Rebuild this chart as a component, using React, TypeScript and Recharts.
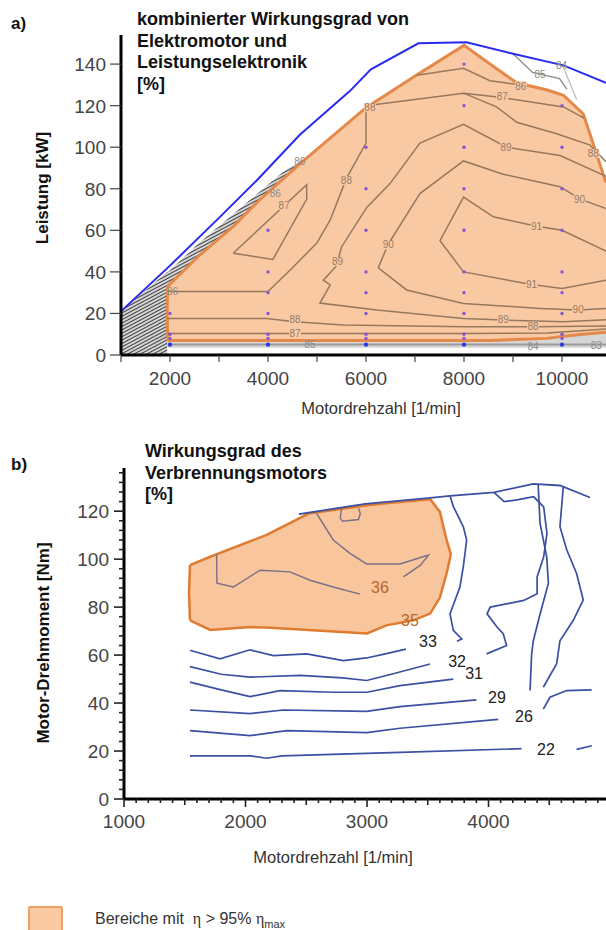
import React from "react";
import { ComposedChart, Line, Area, Scatter, XAxis, YAxis } from "recharts";

const FONT = '"Liberation Sans", Arial, Helvetica, sans-serif';

// ---------- a) Elektromotor + Leistungselektronik ----------
const speedTicksA = [1000, 2000, 3000, 4000, 5000, 6000, 7000, 8000, 9000, 10000];
const powerTicksA = [0, 20, 40, 60, 80, 100, 120, 140];

// Volllastkurve [Drehzahl, Leistung]
const envelopeA = [[1000, 21], [2000, 43], [3000, 66], [3770, 84], [4650, 106], [5670, 127], [6100, 137.5], [7070, 150], [8050, 150.5], [9000, 145], [10030, 139.4], [10898, 131]];
// Bereich > 95% [Drehzahl, unten, oben]
const orangeA = [[1950, 7, 33], [2600, 7, 48], [3300, 7, 62], [3800, 7, 74], [4650, 7, 92], [6000, 7, 119], [7050, 7, 135], [8000, 7, 149], [8530, 7, 140], [9075, 7.5, 131], [9700, 8, 127.5], [10030, 9, 125], [10435, 10, 116], [10898, 11, 83]];
const orangeEdgeA = [[1955, 7], [1940, 20], [1950, 33]];
// dicht gepackte Isolinien (schraffiert)
const hatchA = [[1000, 0, 21], [1940, 0, 40], [1960, 31, 40], [2600, 46, 54], [3300, 60, 68], [3800, 72, 78], [4300, 82, 88], [4700, 91, 94]];
const bandA = [[1950, 3.5, 7], [8000, 3.5, 7], [9075, 3.5, 7.5], [9700, 3.5, 8], [10030, 3.5, 9], [10435, 3.5, 10], [10898, 3.5, 11]];

const a86 = [[7035, 134.6], [7990, 138], [8530, 132], [9140, 130]];
const a87 = [[6000, 120], [7990, 126], [8735, 124], [10030, 119.4], [10450, 114]];
const a88r = [[7990, 126], [8665, 119.4], [9076, 112], [9892, 106.5], [10572, 101], [10898, 93]];
const a88 = [[1950, 30.5], [4000, 30.5], [4500, 42], [5000, 54], [5270, 65], [5600, 85], [6000, 102], [6000, 120]];
const a89 = [[10898, 86], [9960, 96], [8870, 100], [7990, 111], [7100, 102], [6490, 82.5], [6016, 71], [5500, 52], [5400, 43], [5130, 36], [5270, 33.7], [5060, 25], [6220, 21.6], [7990, 17.6], [8800, 16.8], [10030, 16], [10898, 17]];
const a90 = [[10898, 70.5], [10370, 75], [9960, 81], [8800, 87], [7990, 93.4], [7100, 77.7], [6455, 53.4], [6250, 42], [6830, 31.3], [7990, 24.8], [9550, 22.4], [10330, 21.6], [10898, 22.4]];
const a91 = [[10898, 50], [10000, 60], [9480, 62], [8600, 66.5], [7990, 76], [7510, 55], [7990, 40], [9350, 34], [10000, 32], [10898, 36]];
const a87loop = [[3290, 49], [4100, 46], [4790, 75], [4790, 82], [3290, 49]];
const a88low = [[1950, 17.6], [3974, 17.6], [4551, 16], [5537, 14.4], [7986, 13.6], [9409, 13.6], [10898, 14]];
const a87low = [[1950, 10.4], [4000, 10.4], [8000, 10.3], [9700, 10.6], [10898, 12.5]];
const a85 = [[9000, 145], [9400, 136], [9950, 133], [10100, 128]];
const a84 = [[10000, 140], [10300, 123]];
const aBase = [[1950, 5], [10898, 5]];

const labelsA: [string, number, number][] = [
  ["88", 6080, 119], ["87", 8780, 124.5], ["86", 9160, 129.5], ["88", 10640, 97], ["89", 8860, 100],
  ["90", 10360, 75], ["91", 9480, 62], ["91", 9380, 34], ["90", 10330, 21.8], ["90", 6455, 53],
  ["89", 5420, 45], ["88", 5600, 84], ["87", 4330, 72], ["88", 4551, 17], ["87", 4551, 10.5],
  ["89", 8800, 17], ["88", 9409, 13.8],
];
const labelsAOut: [string, number, number][] = [
  ["85", 9550, 135], ["84", 9990, 139.5], ["86", 4650, 93], ["86", 4150, 78], ["86", 2050, 30.5],
  ["85", 4857, 5], ["84", 9409, 4], ["83", 10700, 4.5],
];

// Messpunkte
const gridSpeedsA = [2000, 4000, 6000, 8000, 10000];
const gridPowersA = [8, 10, 20, 30, 40, 60, 80, 100, 120, 140];
const gridTopA = [20, 60, 120, 140, 120];
const baseRowA = 5;

// ---------- b) Verbrennungsmotor ----------
const envelopeB = [[2440, 118.8], [2985, 123], [3502, 125.4], [3683, 126.4], [4045, 127.8], [4369, 131.4], [4588, 130.7], [4835, 125.7]];
const orangeB = [[1543, 74.5, 97.5], [1710, 70.5, 101], [2040, 71.7, 107.5], [2170, 71.5, 110], [2520, 70.5, 119], [3000, 69, 122.5], [3160, 72.4, 123.3], [3380, 74.5, 124.3], [3520, 77.3, 125], [3600, 84, 119.7], [3655, 94, 108], [3690, 102, 102]];
const orangeEdgeB = [[1543, 74.5], [1535, 86], [1543, 97.5]];

const b36a = [[1762, 102], [1765, 90], [1900, 88.4], [2120, 95.4], [2366, 94.7], [2531, 91.2], [2722, 88.4], [2942, 85.4]];
const b36b = [[2586, 119], [2722, 108], [2860, 102.4], [2997, 98], [3272, 98], [3460, 101], [3506, 101.7], [3440, 97.5], [3300, 92.6]];
const b36loop = [[2790, 121], [2780, 117], [2800, 115.8], [2930, 116.5], [2945, 119], [2930, 121.2]];
const b33 = [[1543, 62], [1790, 58.4], [2037, 62.2], [2229, 59.8], [2504, 60.5], [2805, 57.7], [2997, 58.8], [3150, 60.5], [3320, 62.5]];
const b32 = [[1543, 55.2], [1800, 52], [2037, 50.8], [2449, 51.5], [2800, 50.5], [2997, 49.4], [3200, 52], [3519, 56.3]];
const b31 = [[1543, 48.7], [1800, 45.5], [2037, 42.7], [2284, 45.2], [2723, 44.5], [3000, 44.5], [3272, 47.3], [3710, 50]];
const b29 = [[1543, 37.1], [2037, 35.6], [2311, 37.1], [2997, 36.5], [3272, 38.5], [3900, 41.3]];
const b26 = [[1543, 28.5], [2037, 26.4], [2339, 28.5], [2997, 27.7], [3272, 29.5], [4080, 33.2]];
const b22 = [[1543, 18], [2037, 18], [2174, 17], [2300, 18], [3272, 19.4], [4272, 21]];
const b22r = [[4725, 20.7], [4850, 22.2]];
const b26r = [[4451, 37.5], [4506, 42.4], [4643, 45.2], [4849, 45.5]];
const v1 = [[3683, 126.4], [3710, 122], [3793, 113.5], [3820, 108], [3793, 97], [3765, 88.4], [3683, 77.2], [3710, 70.3], [3780, 66.7], [3740, 65.8]];
const v2 = [[4045, 127.8], [4128, 124], [4235, 124.7], [4372, 126], [4454, 121.8], [4481, 110.7], [4454, 101], [4400, 92.6], [4400, 85.6], [4290, 82.8], [4014, 80], [3988, 77.2], [4070, 71.7], [4121, 68.9], [4149, 64], [3984, 60.5]];
const v3 = [[4409, 131], [4424, 115], [4479, 101], [4493, 90], [4424, 77], [4369, 66], [4355, 60.5], [4342, 45.2]];
const v4 = [[4616, 130.5], [4588, 113.5], [4643, 104], [4725, 94], [4780, 83], [4698, 74.5], [4588, 66], [4561, 56.4], [4451, 46.6]];

const labelsB: [string, number, number][] = [
  ["33", 3502, 65.7], ["32", 3741, 57.3], ["31", 3881, 52.3], ["29", 4070, 42.3], ["26", 4292, 34.3], ["22", 4473, 20.9],
];
const labelsBOrange: [string, number, number][] = [["36", 3107, 88.4], ["35", 3354, 74.5]];

const speedTicksB = Array.from({ length: 40 }, (_, i) => 1000 + i * 100);
const torqueTicksB = Array.from({ length: 35 }, (_, i) => i * 4);

// ---------- helpers ----------
const pts = (a: number[][]) => a.map(([x, y]) => ({ x, y }));
const rng = (a: number[][]) => a.map(([x, lo, hi]) => ({ x, r: [lo, hi] }));
const lbl = (a: [string, number, number][]) => a.map(([t, x, y]) => ({ t, x, y }));

const gridDotsA = gridSpeedsA.flatMap((s, i) =>
  gridPowersA.filter((p) => p <= gridTopA[i]).map((p) => ({ x: s, y: p }))
);
const baseDotsA = gridSpeedsA.map((s) => ({ x: s, y: baseRowA }));

const TopXTick = (props: any) => {
  const { x, y, payload } = props;
  return (
    <g>
      <line x1={x} x2={x} y1={y} y2={y + 7} stroke="#444" strokeWidth={1.2} />
      {payload.value % 2000 === 0 && (
        <text x={x} y={y + 30} textAnchor="middle" fontSize={19} fill="#444" fontFamily={FONT}>
          {payload.value}
        </text>
      )}
    </g>
  );
};

const TopYTick = (props: any) => {
  const { x, y, payload } = props;
  return (
    <g>
      <line x1={x - 11} x2={x} y1={y} y2={y} stroke="#444" strokeWidth={1.2} />
      <text x={x - 15} y={y + 7} textAnchor="end" fontSize={19} fill="#444" fontFamily={FONT}>
        {payload.value}
      </text>
    </g>
  );
};

const BottomXTick = (props: any) => {
  const { x, y, payload } = props;
  const v = payload.value;
  const len = v % 1000 === 0 ? 8 : v % 500 === 0 ? 6 : 4;
  return (
    <g>
      <line x1={x} x2={x} y1={y} y2={y + len} stroke="#222" strokeWidth={1.6} />
      {v % 1000 === 0 && (
        <text x={x} y={y + 29} textAnchor="middle" fontSize={19} fill="#444" fontFamily={FONT}>
          {v}
        </text>
      )}
    </g>
  );
};

const BottomYTick = (props: any) => {
  const { x, y, payload } = props;
  const v = payload.value;
  const major = v % 20 === 0;
  return (
    <g>
      <line x1={x - (major ? 10 : 5)} x2={x} y1={y} y2={y} stroke="#222" strokeWidth={1.6} />
      {major && (
        <text x={x - 15} y={y + 7} textAnchor="end" fontSize={19} fill="#444" fontFamily={FONT}>
          {v}
        </text>
      )}
    </g>
  );
};

const labelShape = (color: string, size: number, bg?: string) => (p: any) => (
  <g>
    {bg && <rect x={p.cx - size * 0.6} y={p.cy - size * 0.45} width={size * 1.2} height={size * 0.9} fill={bg} />}
    <text x={p.cx} y={p.cy + size * 0.36} textAnchor="middle" fontSize={size} fill={color} fontFamily={FONT}>
      {p.payload.t}
    </text>
  </g>
);

const dotShape = (color: string, r: number) => (p: any) => <circle cx={p.cx} cy={p.cy} r={r} fill={color} />;

const BROWN = "#96785e";
const ORANGE_FILL = "#f9c9a3";
const ORANGE_LINE = "#e5894a";
const NAVY = "#3b4fa3";

const contour = (key: string, data: number[][], color: string, width = 1.5) => (
  <Line
    key={key}
    data={pts(data)}
    dataKey="y"
    type="linear"
    stroke={color}
    strokeWidth={width}
    dot={false}
    activeDot={false}
    isAnimationActive={false}
  />
);

const boxText: React.CSSProperties = {
  position: "absolute",
  fontFamily: FONT,
  whiteSpace: "nowrap",
};

export default function App() {
  return (
    <div style={{ position: "absolute", left: 0, top: 0, width: 606, height: 930, background: "#fff", overflow: "hidden" }}>
      {/* a) */}
      <div style={{ position: "absolute", left: 0, top: 0 }}>
        <ComposedChart width={606} height={420} margin={{ top: 35, right: 0, bottom: 35, left: 61 }}>
          <defs>
            <pattern id="hatch" width="3" height="3" patternUnits="userSpaceOnUse" patternTransform="rotate(62)">
              <rect width="3" height="3" fill="#d4d4d4" />
              <line x1="0" y1="0" x2="0" y2="3" stroke="#1a1a1a" strokeWidth="1.6" />
            </pattern>
          </defs>
          <XAxis
            dataKey="x"
            type="number"
            domain={[1000, 10898]}
            allowDataOverflow
            ticks={speedTicksA}
            interval={0}
            tickSize={0}
            tickMargin={0}
            tick={TopXTick}
            axisLine={{ stroke: "#000", strokeWidth: 3 }}
            height={30}
          />
          <YAxis
            type="number"
            domain={[0, 154]}
            allowDataOverflow
            ticks={powerTicksA}
            interval={0}
            tickSize={0}
            tickMargin={0}
            tick={TopYTick}
            axisLine={{ stroke: "#000", strokeWidth: 3 }}
            width={60}
          />
          <Area data={rng(hatchA)} dataKey="r" type="linear" stroke="none" fill="url(#hatch)" fillOpacity={1} isAnimationActive={false} />
          <Area data={rng(bandA)} dataKey="r" type="linear" stroke="none" fill="#d6d6d6" fillOpacity={1} isAnimationActive={false} />
          <Area data={rng(orangeA)} dataKey="r" type="linear" stroke={ORANGE_LINE} strokeWidth={3} fill={ORANGE_FILL} fillOpacity={1} isAnimationActive={false} />
          {contour("edgeA", orangeEdgeA, ORANGE_LINE, 3)}
          {contour("a86", a86, BROWN)}
          {contour("a87", a87, BROWN)}
          {contour("a88r", a88r, BROWN)}
          {contour("a88", a88, BROWN)}
          {contour("a89", a89, BROWN)}
          {contour("a90", a90, BROWN)}
          {contour("a91", a91, BROWN)}
          {contour("a87loop", a87loop, BROWN)}
          {contour("a88low", a88low, BROWN)}
          {contour("a87low", a87low, BROWN)}
          {contour("a85", a85, "#8a8a8a", 1.3)}
          {contour("a84", a84, "#bdbdbd", 1.3)}
          {contour("aBase", aBase, "#9a9a9a", 2)}
          {contour("envA", envelopeA, "#2a2af0", 2)}
          <Scatter data={gridDotsA} dataKey="y" shape={dotShape("#8455d8", 1.7)} isAnimationActive={false} />
          <Scatter data={baseDotsA} dataKey="y" shape={dotShape("#2a3ce0", 2.2)} isAnimationActive={false} />
          <Scatter data={lbl(labelsA)} dataKey="y" shape={labelShape("#977a63", 10, ORANGE_FILL)} isAnimationActive={false} />
          <Scatter data={lbl(labelsAOut)} dataKey="y" shape={labelShape("#8a8a8a", 10)} isAnimationActive={false} />
        </ComposedChart>
      </div>

      <div style={{ ...boxText, left: 11, top: 14, fontSize: 17, fontWeight: "bold", color: "#111" }}>a)</div>
      <div style={{ ...boxText, left: 137, top: 9, fontSize: 18, lineHeight: "21.5px", fontWeight: "bold", color: "#111" }}>
        kombinierter Wirkungsgrad von
        <br />
        Elektromotor und
        <br />
        Leistungselektronik
        <br />
        [%]
      </div>
      <div style={{ ...boxText, left: 43, top: 188, fontSize: 17, fontWeight: "bold", color: "#111", transform: "translate(-50%, -50%) rotate(-90deg)" }}>
        Leistung [kW]
      </div>
      <div style={{ ...boxText, left: 381, top: 408, fontSize: 16.5, color: "#333", transform: "translate(-50%, -50%)" }}>
        Motordrehzahl [1/min]
      </div>

      {/* b) */}
      <div style={{ position: "absolute", left: 0, top: 430 }}>
        <ComposedChart width={606} height={440} margin={{ top: 38, right: 0, bottom: 41, left: 64 }}>
          <XAxis
            dataKey="x"
            type="number"
            domain={[1000, 4967]}
            allowDataOverflow
            ticks={speedTicksB}
            interval={0}
            tickSize={0}
            tickMargin={0}
            tick={BottomXTick}
            axisLine={{ stroke: "#000", strokeWidth: 3 }}
            height={30}
          />
          <YAxis
            type="number"
            domain={[0, 138]}
            allowDataOverflow
            ticks={torqueTicksB}
            interval={0}
            tickSize={0}
            tickMargin={0}
            tick={BottomYTick}
            axisLine={{ stroke: "#000", strokeWidth: 3 }}
            width={60}
          />
          <Area data={rng(orangeB)} dataKey="r" type="linear" stroke="#e07b30" strokeWidth={2.5} fill="#f8c59c" fillOpacity={1} isAnimationActive={false} />
          {contour("edgeB", orangeEdgeB, "#e07b30", 2.5)}
          {contour("b36a", b36a, "#7a7087", 1.4)}
          {contour("b36b", b36b, "#7a7087", 1.4)}
          {contour("b36loop", b36loop, "#7a7087", 1.4)}
          {contour("b33", b33, NAVY, 1.7)}
          {contour("b32", b32, NAVY, 1.7)}
          {contour("b31", b31, NAVY, 1.7)}
          {contour("b29", b29, NAVY, 1.7)}
          {contour("b26", b26, NAVY, 1.7)}
          {contour("b22", b22, NAVY, 1.7)}
          {contour("b22r", b22r, NAVY, 1.7)}
          {contour("b26r", b26r, NAVY, 1.7)}
          {contour("v1", v1, NAVY, 1.7)}
          {contour("v2", v2, NAVY, 1.7)}
          {contour("v3", v3, NAVY, 1.7)}
          {contour("v4", v4, NAVY, 1.7)}
          {contour("envB", envelopeB, NAVY, 1.8)}
          <Scatter data={lbl(labelsB)} dataKey="y" shape={labelShape("#222", 16)} isAnimationActive={false} />
          <Scatter data={lbl(labelsBOrange)} dataKey="y" shape={labelShape("#b8682c", 16)} isAnimationActive={false} />
        </ComposedChart>
      </div>

      <div style={{ ...boxText, left: 11, top: 455, fontSize: 17, fontWeight: "bold", color: "#111" }}>b)</div>
      <div style={{ ...boxText, left: 145, top: 441, fontSize: 18, lineHeight: "21.5px", fontWeight: "bold", color: "#111" }}>
        Wirkungsgrad des
        <br />
        Verbrennungsmotors
        <br />
        [%]
      </div>
      <div style={{ ...boxText, left: 44, top: 643, fontSize: 17, fontWeight: "bold", color: "#111", transform: "translate(-50%, -50%) rotate(-90deg)" }}>
        Motor-Drehmoment [Nm]
      </div>
      <div style={{ ...boxText, left: 333, top: 857, fontSize: 16.5, color: "#333", transform: "translate(-50%, -50%)" }}>
        Motordrehzahl [1/min]
      </div>

      {/* Legende */}
      <div style={{ position: "absolute", left: 28, top: 906, width: 31, height: 22, background: "#f9c9a3", border: "2px solid #f0a060", borderRadius: 2 }} />
      <div style={{ ...boxText, left: 95, top: 910, fontSize: 16, color: "#333" }}>
        Bereiche mit&nbsp;&nbsp;<span style={{ fontFamily: "'Liberation Serif', serif" }}>η</span> &gt; 95%{" "}
        <span style={{ fontFamily: "'Liberation Serif', serif" }}>η</span>
        <sub style={{ fontSize: 11 }}>max</sub>
      </div>
    </div>
  );
}
